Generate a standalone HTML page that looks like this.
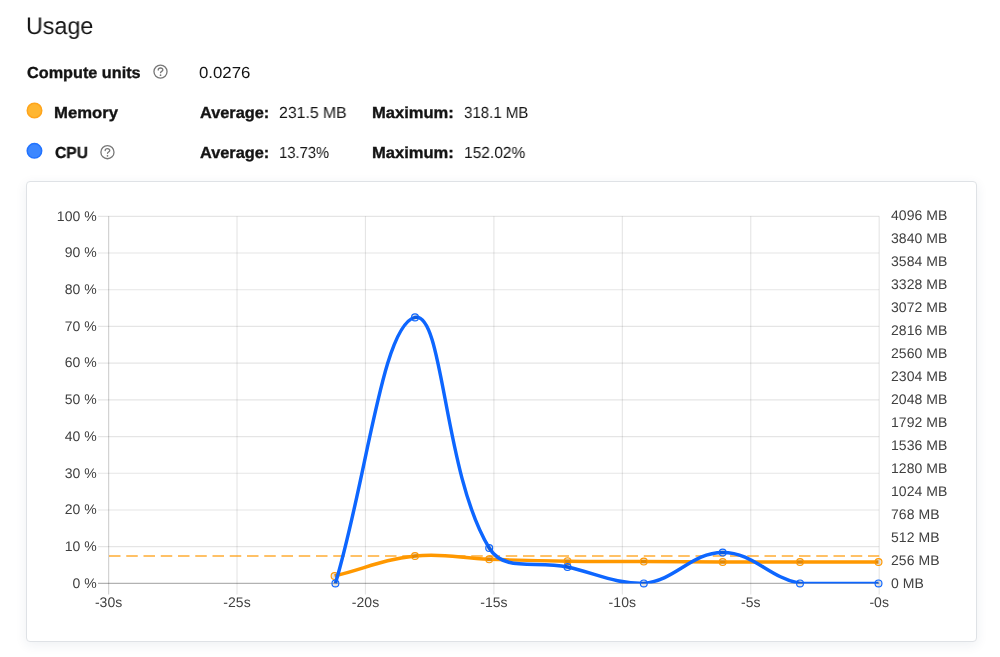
<!DOCTYPE html>
<html><head><meta charset="utf-8">
<style>
html,body{margin:0;padding:0;background:#fff;}
body{width:1000px;height:657px;overflow:hidden;position:relative;font-family:"Liberation Sans",sans-serif;color:#141414;text-rendering:geometricPrecision;}
.t{position:absolute;white-space:nowrap;line-height:1;will-change:transform;}
.card{position:absolute;left:26px;top:181px;width:951px;height:461px;box-sizing:border-box;border:1px solid #dfe2e6;border-radius:4px;background:#fff;box-shadow:0 3px 12px rgba(40,60,100,0.08);}
svg.chart{position:absolute;left:0;top:0;will-change:transform;}
svg text{font-family:"Liberation Sans",sans-serif;font-size:14px;fill:#404040;letter-spacing:0.05px;}
</style></head><body>
<div class="t" id="usage" style="left:26.3px;top:14.6px;font-size:24px;font-weight:normal;letter-spacing:0px;transform:scaleX(0.9704);transform-origin:0 0;">Usage</div>
<div class="t" id="cu" style="left:27.0px;top:65.6px;font-size:16px;font-weight:bold;letter-spacing:0px;-webkit-text-stroke:0.35px #141414;transform:scaleX(1.0141);transform-origin:0 0;">Compute units</div>
<div class="t" id="cuv" style="left:198.8px;top:65.6px;font-size:16px;font-weight:normal;letter-spacing:0px;transform:scaleX(1.0498);transform-origin:0 0;">0.0276</div>
<div class="t" id="mem" style="left:54.09px;top:105.9px;font-size:16px;font-weight:bold;letter-spacing:0px;-webkit-text-stroke:0.35px #141414;transform:scaleX(1.042);transform-origin:0 0;">Memory</div>
<div class="t" id="mavg" style="left:200.21px;top:105.9px;font-size:16px;font-weight:bold;letter-spacing:0px;-webkit-text-stroke:0.35px #141414;transform:scaleX(1.0211);transform-origin:0 0;">Average:</div>
<div class="t" id="mavgv" style="left:278.58px;top:105.9px;font-size:16px;font-weight:normal;letter-spacing:0px;transform:scaleX(0.988);transform-origin:0 0;">231.5 MB</div>
<div class="t" id="mmax" style="left:372.42px;top:105.9px;font-size:16px;font-weight:bold;letter-spacing:0px;-webkit-text-stroke:0.35px #141414;transform:scaleX(1.033);transform-origin:0 0;">Maximum:</div>
<div class="t" id="mmaxv" style="left:464.23px;top:105.9px;font-size:16px;font-weight:normal;letter-spacing:0px;transform:scaleX(0.9398);transform-origin:0 0;">318.1 MB</div>
<div class="t" id="cpu" style="left:54.79px;top:146.2px;font-size:16px;font-weight:bold;letter-spacing:0px;-webkit-text-stroke:0.35px #141414;transform:scaleX(0.9772);transform-origin:0 0;">CPU</div>
<div class="t" id="cavg" style="left:200.21px;top:146.2px;font-size:16px;font-weight:bold;letter-spacing:0px;-webkit-text-stroke:0.35px #141414;transform:scaleX(1.0211);transform-origin:0 0;">Average:</div>
<div class="t" id="cavgv" style="left:278.58px;top:146.2px;font-size:16px;font-weight:normal;letter-spacing:0px;transform:scaleX(0.9236);transform-origin:0 0;">13.73%</div>
<div class="t" id="cmax" style="left:372.42px;top:146.2px;font-size:16px;font-weight:bold;letter-spacing:0px;-webkit-text-stroke:0.35px #141414;transform:scaleX(1.033);transform-origin:0 0;">Maximum:</div>
<div class="t" id="cmaxv" style="left:464.23px;top:146.2px;font-size:16px;font-weight:normal;letter-spacing:0px;transform:scaleX(0.9696);transform-origin:0 0;">152.02%</div>
<div class="card"></div>
<svg class="chart" width="1000" height="657" viewBox="0 0 1000 657">
<line x1="98" y1="216.30" x2="879.2" y2="216.30" stroke="rgba(0,0,0,0.1)" stroke-width="1.15"/>
<line x1="98" y1="253.01" x2="879.2" y2="253.01" stroke="rgba(0,0,0,0.1)" stroke-width="1.15"/>
<line x1="98" y1="289.72" x2="879.2" y2="289.72" stroke="rgba(0,0,0,0.1)" stroke-width="1.15"/>
<line x1="98" y1="326.43" x2="879.2" y2="326.43" stroke="rgba(0,0,0,0.1)" stroke-width="1.15"/>
<line x1="98" y1="363.14" x2="879.2" y2="363.14" stroke="rgba(0,0,0,0.1)" stroke-width="1.15"/>
<line x1="98" y1="399.85" x2="879.2" y2="399.85" stroke="rgba(0,0,0,0.1)" stroke-width="1.15"/>
<line x1="98" y1="436.56" x2="879.2" y2="436.56" stroke="rgba(0,0,0,0.1)" stroke-width="1.15"/>
<line x1="98" y1="473.27" x2="879.2" y2="473.27" stroke="rgba(0,0,0,0.1)" stroke-width="1.15"/>
<line x1="98" y1="509.98" x2="879.2" y2="509.98" stroke="rgba(0,0,0,0.1)" stroke-width="1.15"/>
<line x1="98" y1="546.69" x2="879.2" y2="546.69" stroke="rgba(0,0,0,0.1)" stroke-width="1.15"/>
<line x1="98" y1="583.40" x2="879.2" y2="583.40" stroke="rgba(0,0,0,0.3)" stroke-width="1.15"/>
<line x1="108.60" y1="216.3" x2="108.60" y2="594.4" stroke="rgba(0,0,0,0.1)" stroke-width="1.15"/>
<line x1="237.03" y1="216.3" x2="237.03" y2="594.4" stroke="rgba(0,0,0,0.1)" stroke-width="1.15"/>
<line x1="365.46" y1="216.3" x2="365.46" y2="594.4" stroke="rgba(0,0,0,0.1)" stroke-width="1.15"/>
<line x1="493.89" y1="216.3" x2="493.89" y2="594.4" stroke="rgba(0,0,0,0.1)" stroke-width="1.15"/>
<line x1="622.32" y1="216.3" x2="622.32" y2="594.4" stroke="rgba(0,0,0,0.1)" stroke-width="1.15"/>
<line x1="750.75" y1="216.3" x2="750.75" y2="594.4" stroke="rgba(0,0,0,0.1)" stroke-width="1.15"/>
<line x1="879.18" y1="216.3" x2="879.18" y2="594.4" stroke="rgba(0,0,0,0.1)" stroke-width="1.15"/>
<line x1="108.70" y1="216.3" x2="108.70" y2="594.4" stroke="rgba(0,0,0,0.1)" stroke-width="1.15"/>
<line x1="109" y1="556" x2="879.2" y2="556" stroke="#ff9800" stroke-opacity="0.6" stroke-width="2" stroke-dasharray="11.5 5.75"/>
<defs><clipPath id="ca"><rect x="108.6" y="200" width="770.6" height="383.4"/></clipPath></defs>
<path d="M334.60 576.00 C366.76 568.00 382.39 559.52 415.00 556.00 C444.23 552.84 459.51 558.29 489.20 559.30 C520.51 560.37 536.18 560.75 567.50 561.20 C598.02 561.63 613.28 561.34 643.80 561.50 C675.36 561.66 691.14 561.90 722.70 562.00 C753.62 562.10 769.08 562.00 800.00 562.00 C831.40 562.00 847.10 562.00 878.50 562.00" fill="none" stroke="#ff9800" stroke-width="3.45" clip-path="url(#ca)"/>
<circle cx="334.6" cy="576" r="3.45" fill="rgba(0,0,0,0.1)" stroke="#ff9800" stroke-width="1.15"/>
<circle cx="415" cy="556" r="3.45" fill="rgba(0,0,0,0.1)" stroke="#ff9800" stroke-width="1.15"/>
<circle cx="489.2" cy="559.3" r="3.45" fill="rgba(0,0,0,0.1)" stroke="#ff9800" stroke-width="1.15"/>
<circle cx="567.5" cy="561.2" r="3.45" fill="rgba(0,0,0,0.1)" stroke="#ff9800" stroke-width="1.15"/>
<circle cx="643.8" cy="561.5" r="3.45" fill="rgba(0,0,0,0.1)" stroke="#ff9800" stroke-width="1.15"/>
<circle cx="722.7" cy="562" r="3.45" fill="rgba(0,0,0,0.1)" stroke="#ff9800" stroke-width="1.15"/>
<circle cx="800" cy="562" r="3.45" fill="rgba(0,0,0,0.1)" stroke="#ff9800" stroke-width="1.15"/>
<circle cx="878.5" cy="562" r="3.45" fill="rgba(0,0,0,0.1)" stroke="#ff9800" stroke-width="1.15"/>
<path d="M335.40 583.40 C367.24 477.00 382.14 324.96 415.00 317.40 C443.66 310.80 443.43 473.08 489.20 548.00 C504.43 572.92 536.09 559.81 567.50 567.00 C597.93 573.97 614.04 583.40 643.80 583.40 C676.12 580.38 691.18 552.50 722.70 552.50 C753.66 552.50 767.93 577.04 800.00 583.40 C830.25 583.40 847.10 583.40 878.50 583.40" fill="none" stroke="#0d66ff" stroke-width="3.45" clip-path="url(#ca)"/>
<circle cx="335.4" cy="583.4" r="3.45" fill="rgba(0,0,0,0.1)" stroke="#0d66ff" stroke-width="1.15"/>
<circle cx="415" cy="317.4" r="3.45" fill="rgba(0,0,0,0.1)" stroke="#0d66ff" stroke-width="1.15"/>
<circle cx="489.2" cy="548" r="3.45" fill="rgba(0,0,0,0.1)" stroke="#0d66ff" stroke-width="1.15"/>
<circle cx="567.5" cy="567" r="3.45" fill="rgba(0,0,0,0.1)" stroke="#0d66ff" stroke-width="1.15"/>
<circle cx="643.8" cy="583.4" r="3.45" fill="rgba(0,0,0,0.1)" stroke="#0d66ff" stroke-width="1.15"/>
<circle cx="722.7" cy="552.5" r="3.45" fill="rgba(0,0,0,0.1)" stroke="#0d66ff" stroke-width="1.15"/>
<circle cx="800" cy="583.4" r="3.45" fill="rgba(0,0,0,0.1)" stroke="#0d66ff" stroke-width="1.15"/>
<circle cx="878.5" cy="583.4" r="3.45" fill="rgba(0,0,0,0.1)" stroke="#0d66ff" stroke-width="1.15"/>
<g transform="translate(160.5,71.6)"><circle cx="0" cy="0" r="6.55" fill="none" stroke="#777" stroke-width="1.3"/><path d="M-2.3,-1.6 C-2.3,-2.9 -1.3,-3.6 0.05,-3.6 C1.4,-3.6 2.35,-2.8 2.35,-1.6 C2.35,-0.3 0.05,-0.2 0.05,1.1" fill="none" stroke="#777" stroke-width="1.3" stroke-linecap="round"/><circle cx="0.05" cy="3.6" r="0.85" fill="#777"/></g>
<g transform="translate(107.45,152.2)"><circle cx="0" cy="0" r="6.55" fill="none" stroke="#777" stroke-width="1.3"/><path d="M-2.3,-1.6 C-2.3,-2.9 -1.3,-3.6 0.05,-3.6 C1.4,-3.6 2.35,-2.8 2.35,-1.6 C2.35,-0.3 0.05,-0.2 0.05,1.1" fill="none" stroke="#777" stroke-width="1.3" stroke-linecap="round"/><circle cx="0.05" cy="3.6" r="0.85" fill="#777"/></g>
<circle cx="34.5" cy="110.5" r="7.25" fill="#ffb631" stroke="#ffa51c" stroke-width="1.5"/>
<circle cx="34.45" cy="150.8" r="7.25" fill="#3d87ff" stroke="#2273ff" stroke-width="1.5"/>
<text x="96.8" y="220.5" text-anchor="end">100 %</text>
<text x="96.8" y="257.2" text-anchor="end">90 %</text>
<text x="96.8" y="293.9" text-anchor="end">80 %</text>
<text x="96.8" y="330.6" text-anchor="end">70 %</text>
<text x="96.8" y="367.3" text-anchor="end">60 %</text>
<text x="96.8" y="404.1" text-anchor="end">50 %</text>
<text x="96.8" y="440.8" text-anchor="end">40 %</text>
<text x="96.8" y="477.5" text-anchor="end">30 %</text>
<text x="96.8" y="514.2" text-anchor="end">20 %</text>
<text x="96.8" y="550.9" text-anchor="end">10 %</text>
<text x="96.8" y="587.6" text-anchor="end">0 %</text>
<text x="891" y="220.4">4096 MB</text>
<text x="891" y="243.3">3840 MB</text>
<text x="891" y="266.3">3584 MB</text>
<text x="891" y="289.2">3328 MB</text>
<text x="891" y="312.2">3072 MB</text>
<text x="891" y="335.1">2816 MB</text>
<text x="891" y="358.1">2560 MB</text>
<text x="891" y="381.0">2304 MB</text>
<text x="891" y="404.0">2048 MB</text>
<text x="891" y="426.9">1792 MB</text>
<text x="891" y="449.8">1536 MB</text>
<text x="891" y="472.8">1280 MB</text>
<text x="891" y="495.7">1024 MB</text>
<text x="891" y="518.7">768 MB</text>
<text x="891" y="541.6">512 MB</text>
<text x="891" y="564.6">256 MB</text>
<text x="891" y="587.5">0 MB</text>
<text x="108.6" y="607" text-anchor="middle">-30s</text>
<text x="237.0" y="607" text-anchor="middle">-25s</text>
<text x="365.5" y="607" text-anchor="middle">-20s</text>
<text x="493.9" y="607" text-anchor="middle">-15s</text>
<text x="622.3" y="607" text-anchor="middle">-10s</text>
<text x="750.8" y="607" text-anchor="middle">-5s</text>
<text x="879.2" y="607" text-anchor="middle">-0s</text>
</svg>
</body></html>
